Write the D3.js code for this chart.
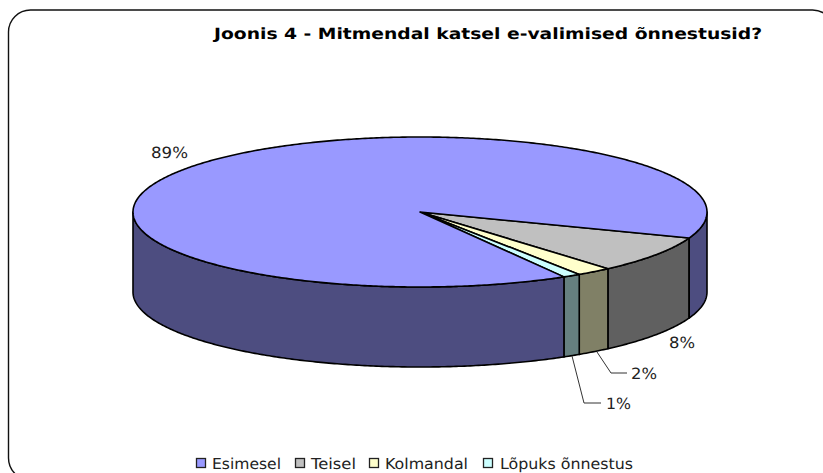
<!DOCTYPE html>
<html><head><meta charset="utf-8">
<script src="https://cdn.jsdelivr.net/npm/d3@7"></script>
<style>html,body{margin:0;padding:0;background:#fff;overflow:hidden}svg{display:block}text{font-family:"DejaVu Sans",Verdana,sans-serif;fill:#000;text-rendering:geometricPrecision}</style>
</head><body><div id="c"></div>
<script>
const titleText = "Joonis 4 - Mitmendal katsel e-valimised õnnestusid?";
const categories = ["Esimesel","Teisel","Kolmandal","Lõpuks õnnestus"];
const values = [89,8,2,1];
const labels = ["89%","8%","2%","1%"];
const topColors = ["#9999ff","#c0c0c0","#ffffcc","#ccffff"];
const sideColors = ["#4d4d80","#606060","#808066","#668080"];
const legendX = [196,295,369,483];
const legendTextX = [212,311,385,500];
const legendTextW = [69,45,83,133];

const W=823,H=473, cx=420, cy=212, rx=287, ry=75, depth=80;
const svg=d3.select("#c").append("svg").attr("width",W).attr("height",H);
const sx=d3.scaleLinear().domain([-1,1]).range([cx-rx,cx+rx]);
const sy=d3.scaleLinear().domain([-1,1]).range([cy-ry,cy+ry]);
const start=20.3*Math.PI/180;
const arcs=d3.pie().sort(null).startAngle(start).endAngle(start+2*Math.PI)(values);
const order=[1,2,3,0];
let a0=start; const slices=order.map(i=>{const sweep=arcs[i].endAngle-arcs[i].startAngle;const s={i,a0,a1:a0+sweep};a0+=sweep;return s;});
const pt=(a,dz=0)=>[sx(Math.cos(a)),sy(Math.sin(a))+dz];
const arcPts=(a,b,dz=0)=>{const n=Math.max(2,Math.ceil(Math.abs(b-a)/0.01));return d3.range(n+1).map(k=>pt(a+(b-a)*k/n,dz));};
const line=d3.line();

svg.append("rect").attr("x",8.5).attr("y",10).attr("width",826).attr("height",470).attr("rx",22).attr("ry",22)
  .attr("fill","#fff").attr("stroke","#111").attr("stroke-width",1.4);

const sideG=svg.append("g");
slices.forEach(s=>{
  const segs=[[Math.max(s.a0,0),Math.min(s.a1,Math.PI)],[Math.max(s.a0,2*Math.PI),Math.min(s.a1,3*Math.PI)]];
  segs.filter(q=>q[1]>q[0]).forEach(([p,q])=>{
    const path=arcPts(p,q).concat(arcPts(q,p,depth));
    sideG.append("path").attr("d",line(path)+"Z").attr("fill",sideColors[s.i]).attr("stroke","#000").attr("stroke-width",1.6).attr("stroke-linejoin","round");
  });
});
const topG=svg.append("g");
slices.forEach(s=>{
  const path=[[cx,cy]].concat(arcPts(s.a0,s.a1));
  topG.append("path").attr("d",line(path)+"Z").attr("fill",topColors[s.i]).attr("stroke","#000").attr("stroke-width",1.6).attr("stroke-linejoin","round");
});

const stretched=(sel,len)=>sel.attr("textLength",len).attr("lengthAdjust","spacingAndGlyphs");
stretched(svg.append("text").attr("x",214).attr("y",39).attr("font-size",15.5).attr("font-weight","bold").text(titleText),548);

const lab=(t,x,y,w)=>stretched(svg.append("text").attr("x",x).attr("y",y).attr("font-size",15.5).style("fill","#222").text(t),w);
lab(labels[0],151,158,37); lab(labels[1],669,348,26); lab(labels[2],631,379,26); lab(labels[3],606,409,25);

const lc=svg.append("g").attr("fill","none").attr("stroke","#333").attr("stroke-width",1);
lc.append("path").attr("d",line([[597,352],[611,373],[627,373]]));
lc.append("path").attr("d",line([[572,356],[584,403],[601,403]]));

const lg=svg.append("g");
categories.forEach((c,i)=>{
  lg.append("rect").attr("x",legendX[i]+.5).attr("y",458.5).attr("width",9).attr("height",9).attr("fill",topColors[i]).attr("stroke","#222").attr("stroke-width",1.3);
  stretched(lg.append("text").attr("x",legendTextX[i]).attr("y",469).attr("font-size",15).style("fill","#222").text(c),legendTextW[i]);
});
</script></body></html>
